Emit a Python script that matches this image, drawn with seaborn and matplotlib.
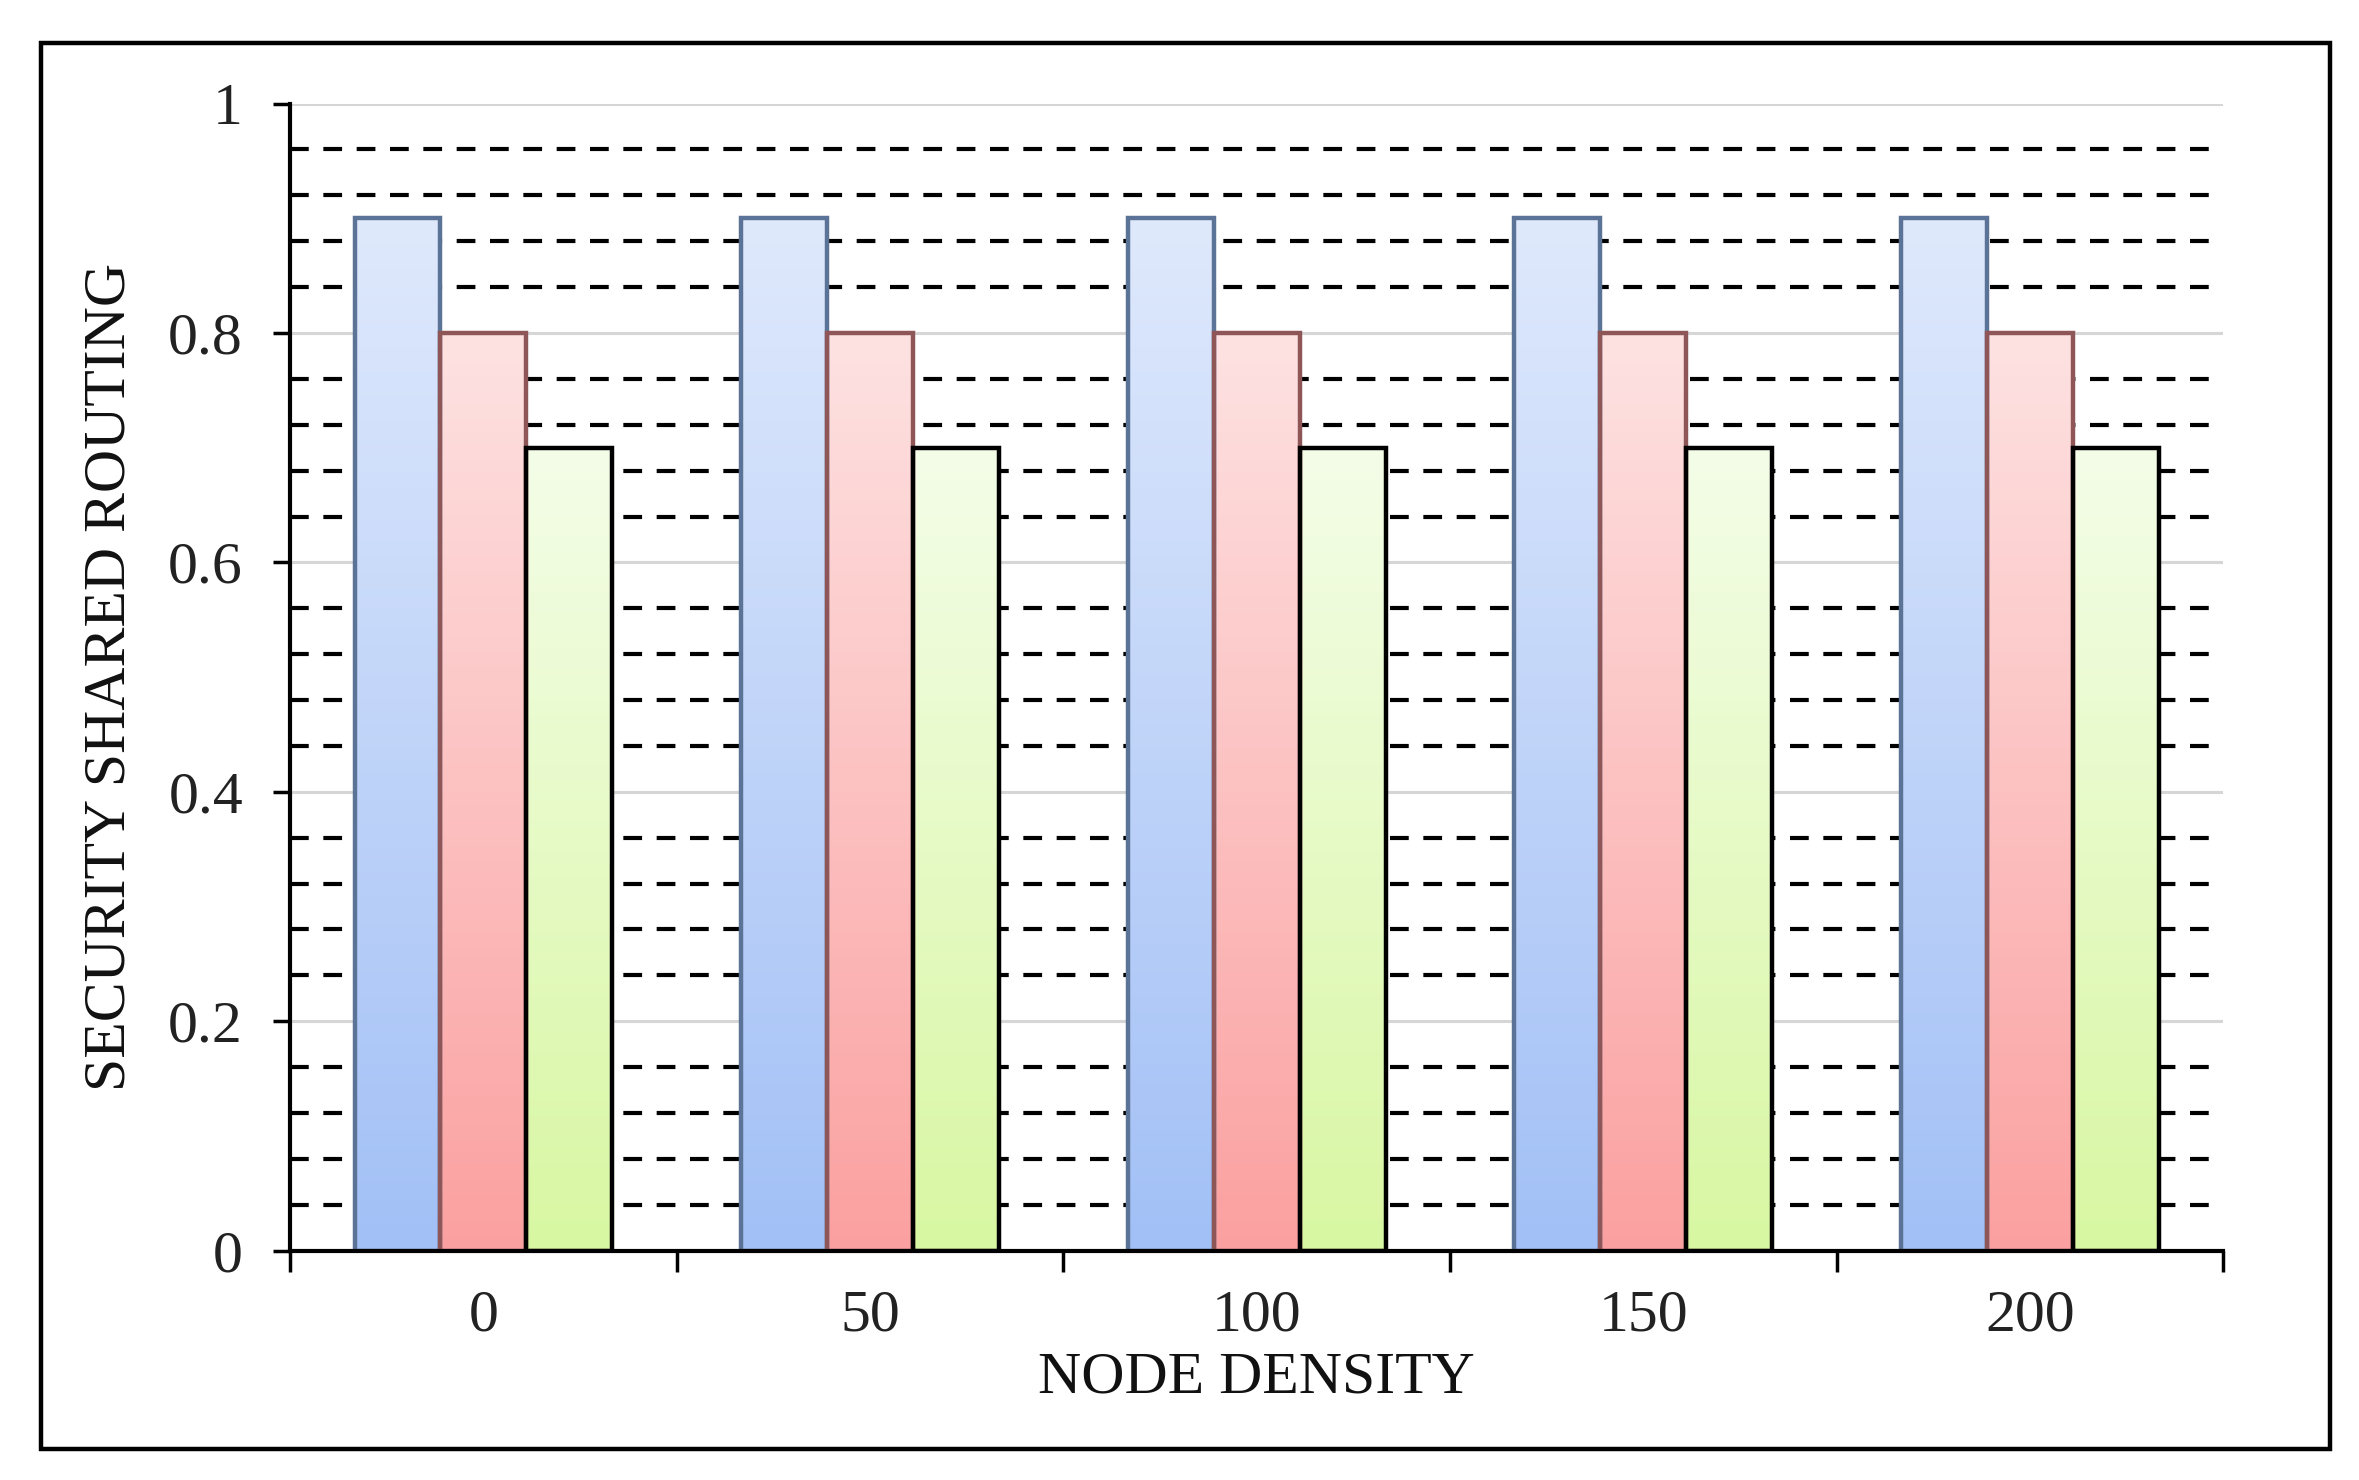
import numpy as np
import pandas as pd
import matplotlib
matplotlib.use("Agg")
import matplotlib.pyplot as plt
import seaborn as sns
from matplotlib.colors import LinearSegmentedColormap
from matplotlib.patches import Rectangle
from matplotlib.ticker import MultipleLocator, FixedLocator

# --- data ---
node_density = ["0", "50", "100", "150", "200"]
series_names = ["Scheme A", "Scheme B", "Scheme C"]
series_a = [0.9, 0.9, 0.9, 0.9, 0.9]
series_b = [0.8, 0.8, 0.8, 0.8, 0.8]
series_c = [0.7, 0.7, 0.7, 0.7, 0.7]

df = pd.DataFrame({
    "density": node_density * 3,
    "series": [series_names[0]] * 5 + [series_names[1]] * 5 + [series_names[2]] * 5,
    "value": series_a + series_b + series_c,
})

# gradient (top colour, bottom colour, edge colour) per series
grad = {
    series_names[0]: ("#dfe9fc", "#a2c0f6", "#5b7396"),
    series_names[1]: ("#fee2e2", "#fba0a0", "#8e5656"),
    series_names[2]: ("#f4fde8", "#d8f7a2", "#000000"),
}

sns.set_style("white")
plt.rcParams["font.family"] = ["Liberation Serif", "DejaVu Serif"]

fig = plt.figure(figsize=(23.59, 14.80), dpi=100)
ax = fig.add_axes([0.123, 0.155, 0.8195, 0.775])

sns.barplot(data=df, x="density", y="value", hue="series", order=node_density,
            hue_order=series_names, width=0.667, dodge=True, legend=False,
            saturation=1, errorbar=None, ax=ax)

# swap flat fills for vertical gradients clipped to each bar
for cont, name in zip(ax.containers, series_names):
    top_c, bot_c, edge_c = grad[name]
    cmap = LinearSegmentedColormap.from_list(name, [bot_c, top_c])
    for p in cont.patches:
        x0, y0 = p.get_x(), p.get_y()
        w, h = p.get_width(), p.get_height()
        p.set_facecolor("none")
        p.set_edgecolor(edge_c)
        p.set_linewidth(3.2)
        p.set_zorder(3)
        img = ax.imshow(np.linspace(0, 1, 256).reshape(-1, 1), cmap=cmap,
                        extent=[x0, x0 + w, y0, y0 + h], origin="lower",
                        aspect="auto", zorder=2.5)
        img.set_clip_path(p)

ax.set_xlim(-0.5, 4.5)
ax.set_ylim(0, 1)

# grid: solid grey majors, black dashed minors
ax.yaxis.set_major_locator(MultipleLocator(0.2))
ax.yaxis.set_minor_locator(FixedLocator([i * 0.04 for i in range(26) if i % 5 != 0]))
ax.grid(axis="y", which="major", color="#d6d6d6", linewidth=2.2, linestyle="-", zorder=0)
ax.grid(axis="y", which="minor", color="black", linewidth=3, linestyle=(0, (4.5, 3.5)), zorder=0)
ax.grid(axis="x", visible=False)
ax.set_axisbelow(True)
ax.set_yticks([0, 0.2, 0.4, 0.6, 0.8, 1.0])
ax.set_yticklabels(["0", "0.2", "0.4", "0.6", "0.8", "1"])

# x: ticks on category boundaries, labels at centres
ax.set_xticks([-0.5, 0.5, 1.5, 2.5, 3.5, 4.5])
ax.set_xticklabels([])
ax.set_xticks(range(len(node_density)), minor=True)
ax.set_xticklabels(node_density, minor=True)

ax.tick_params(axis="x", which="major", direction="out", length=15, width=2.5, color="black", bottom=True)
ax.tick_params(axis="x", which="minor", length=0, labelsize=43, pad=28, labelcolor="#222222")
ax.tick_params(axis="y", which="major", direction="out", length=12, width=2.5, color="black",
               left=True, labelsize=43, pad=22, labelcolor="#222222")
ax.tick_params(axis="y", which="minor", length=0)

for side in ["top", "right"]:
    ax.spines[side].set_visible(False)
for side in ["left", "bottom"]:
    ax.spines[side].set_color("black")
    ax.spines[side].set_linewidth(3)
    ax.spines[side].set_zorder(4)

ax.set_xlabel("NODE DENSITY", fontsize=43, labelpad=6, color="#111111")
ax.set_ylabel("SECURITY SHARED ROUTING", fontsize=43, labelpad=22, color="#111111")

# outer frame around the whole figure
fig.patches.append(Rectangle((0.0174, 0.021), 0.9705, 0.950, transform=fig.transFigure,
                             fill=False, edgecolor="black", linewidth=3.2))

fig.savefig("out.png", dpi=100)
